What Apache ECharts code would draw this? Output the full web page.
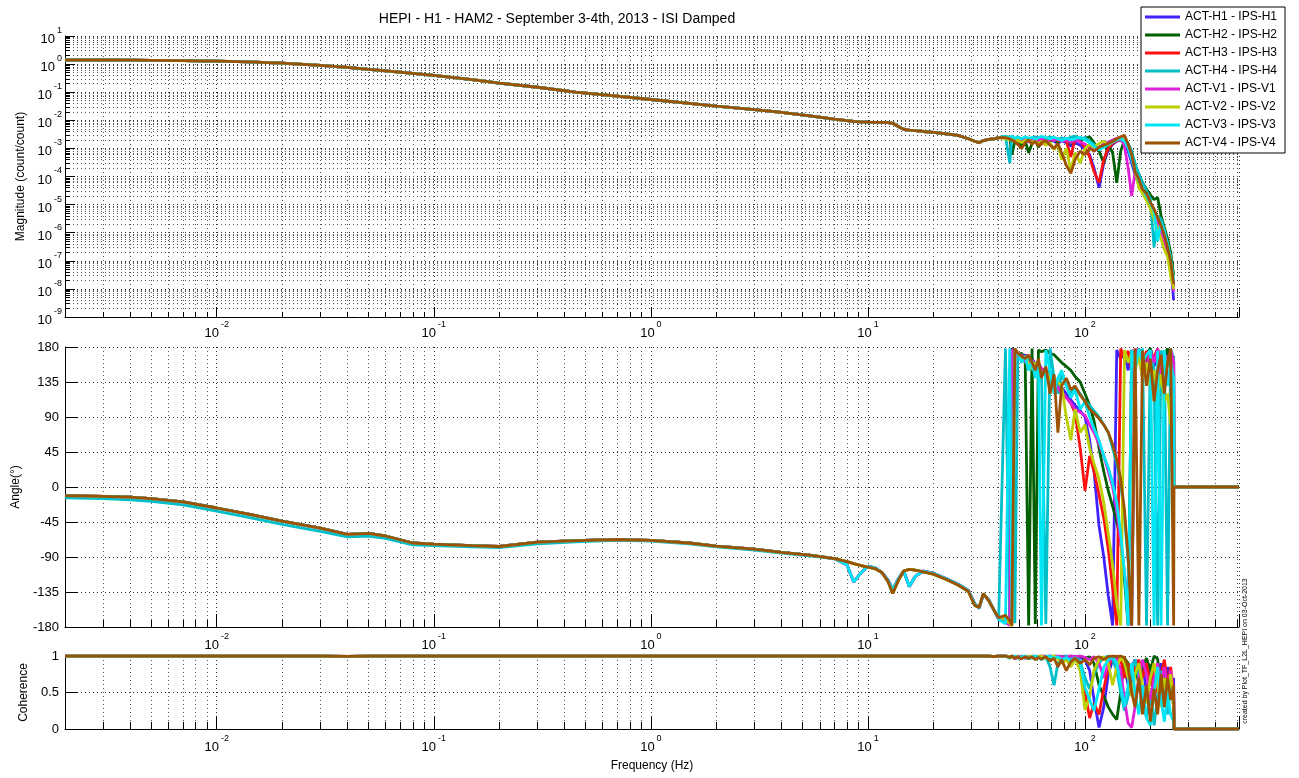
<!DOCTYPE html>
<html>
<head>
<meta charset="utf-8">
<title>HEPI - H1 - HAM2 - ISI Damped</title>
<script src="https://cdn.jsdelivr.net/npm/echarts@6.0.0/dist/echarts.min.js"></script>
<style>
  html, body { margin: 0; padding: 0; background: #fff; }
  #main { width: 1299px; height: 778px; }
</style>
</head>
<body>
<div id="main"></div>
<script>
// --- series ---
var seriesNames = ['ACT-H1 - IPS-H1', 'ACT-H2 - IPS-H2', 'ACT-H3 - IPS-H3', 'ACT-H4 - IPS-H4',
                   'ACT-V1 - IPS-V1', 'ACT-V2 - IPS-V2', 'ACT-V3 - IPS-V3', 'ACT-V4 - IPS-V4'];
var seriesColors = ['#4022ff', '#005f00', '#ff1010', '#00bfc8', '#e020d8', '#bcd000', '#00e6f5', '#9c5200'];

// --- low frequencies, all channels alike (Hz) ---
var freqLow = [0.002, 0.003, 0.004, 0.005, 0.007, 0.01, 0.014, 0.02, 0.03, 0.04, 0.05, 0.06, 0.08, 0.1,
               0.15, 0.2, 0.3, 0.45, 0.7, 1, 1.5, 2, 3, 4, 5.5];
var magLow = [1.4, 1.4, 1.38, 1.36, 1.33, 1.28, 1.2, 1.08, 0.9, 0.76, 0.65, 0.57, 0.47, 0.4,
              0.28, 0.21, 0.15, 0.1, 0.072, 0.055, 0.04, 0.032, 0.024, 0.019, 0.014];
var phaseLow = [-11, -12, -13, -15, -19, -27, -35, -44, -53, -61, -59.5, -63, -72, -73.5,
                -75.5, -76.5, -71, -69, -67.5, -68.5, -72, -76, -80, -84, -88];
var phaseLowH4 = [-14, -15, -16.5, -18.5, -23, -31, -39, -48, -57, -64, -63, -66, -74.5, -75.5,
                  -77, -78, -73, -70.5, -68.5, -69.5, -73, -77, -81, -85, -89];
var cohLow = [1, 1, 1, 1, 1, 1, 1, 1, 1, 0.995, 1, 1, 1, 1, 1, 1, 1, 1, 1, 1, 1, 1, 1, 1, 1];

// --- mid frequencies (Hz) ---
var freqMid = [7, 8, 8.6, 9.3, 10, 10.8, 11.6, 12.4, 13, 13.8, 14.6, 15.5, 16.5, 18, 20, 23, 26, 29,
               31, 32.5, 34, 36, 38, 40];
var magMid = [0.011, 0.0098, 0.0092, 0.0088, 0.0086, 0.0085, 0.0084, 0.0082, 0.0078, 0.006, 0.0048, 0.0045,
              0.0043, 0.004, 0.0037, 0.0033, 0.0029, 0.0022, 0.0018, 0.0016, 0.0019, 0.0021, 0.0022, 0.0024];
var phaseMidA = [-92, -100, -122, -110, -102, -104, -110, -120, -132, -118, -108, -128,
                 -115, -108, -111, -118, -125, -133, -150, -156, -138, -145, -158, -170];
var phaseMidB = [-92, -96, -98.5, -101, -103, -105, -110, -122, -137, -120, -108, -106,
                 -107, -109, -112, -119, -126, -134, -152, -155, -137, -146, -158, -168];
var cohMid = [1, 1, 1, 1, 1, 1, 1, 1, 1, 1, 1, 1, 1, 1, 1, 1, 1, 1, 1, 1, 1, 1, 0.99, 1];

// --- high frequencies, per channel (Hz) ---
var freqHigh = [43, 45, 46, 47.5, 49, 51, 53, 55, 57, 59, 61, 63, 66, 69, 72, 75, 78, 82, 86, 90,
                95, 100, 105, 110, 116, 122, 128, 134, 140, 146, 152, 158, 164, 170, 177, 184, 192,
                200, 208, 216, 224, 232, 240, 248, 256, 257, 512];

var magHighH1 = [2.5e-3, 2.3e-3, 2.2e-3, 1.9e-3, 2.1e-3, 1.7e-3, 2.0e-3, 2.3e-3, 1.9e-3, 2.2e-3,
  1.8e-3, 2.1e-3, 1.6e-3, 2.0e-3, 1.8e-3, 1.5e-3, 1.9e-3, 1.6e-3, 1.2e-3, 1.6e-3,
  1.3e-3, 9e-4, 6e-4, 2e-4, 4e-5, 3e-4, 9e-4, 1.4e-3, 1.8e-3, 2.0e-3,
  1.5e-3, 8e-4, 3e-4, 1.2e-4, 5e-5, 3e-5, 1.6e-5, 9e-6, 5e-6, 2.5e-6,
  1.3e-6, 6e-7, 2.2e-7, 7e-8, 4e-9, null, null];
var magHighH2 = [2.6e-3, 2.4e-3, 6e-4, 1.8e-3, 2.2e-3, 1.3e-3, 1.9e-3, 7e-4, 1.5e-3, 2.0e-3,
  1.1e-3, 1.6e-3, 2.2e-3, 1.8e-3, 2.0e-3, 1.7e-3, 2.1e-3, 1.9e-3, 1.5e-3, 2.0e-3,
  1.8e-3, 2.3e-3, 2.6e-3, 1.6e-3, 8e-4, 3e-4, 1.4e-3, 7e-4, 6e-5, 8e-4,
  2.0e-3, 1.4e-3, 7e-4, 2.5e-4, 1.2e-4, 6e-5, 3.5e-5, 2.2e-5, 1.5e-5, 1.8e-5,
  4e-6, 1.5e-6, 6e-7, 2e-7, 3e-8, null, null];
var magHighH3 = [2.4e-3, 2.2e-3, 2.4e-3, 2.0e-3, 1.8e-3, 2.1e-3, 1.8e-3, 2.2e-3, 1.7e-3, 2.1e-3,
  1.9e-3, 1.4e-3, 1.8e-3, 2.0e-3, 2.3e-3, 1.9e-3, 2.2e-3, 1.8e-3, 5e-4, 2.4e-3,
  1.7e-3, 1.1e-3, 5e-4, 1.5e-4, 6e-5, 4e-4, 1.0e-3, 1.5e-3, 1.9e-3, 2.1e-3,
  1.6e-3, 1.2e-3, 6e-4, 2e-4, 7e-5, 3.5e-5, 1.8e-5, 1e-5, 5.5e-6, 2.8e-6,
  1.4e-6, 6.5e-7, 2.5e-7, 8e-8, 1.2e-8, null, null];
var magHighH4 = [2.7e-3, 3e-4, 2.5e-3, 2.2e-3, 2.6e-3, 2.0e-3, 2.4e-3, 1.8e-3, 2.3e-3, 2.6e-3,
  2.1e-3, 2.5e-3, 2.2e-3, 2.6e-3, 2.3e-3, 2.0e-3, 2.4e-3, 2.1e-3, 2.5e-3, 2.7e-3,
  2.2e-3, 2.4e-3, 1.8e-3, 1.4e-3, 1.0e-3, 1.3e-3, 1.6e-3, 1.9e-3, 2.2e-3, 2.4e-3,
  2.0e-3, 1.5e-3, 8e-4, 3e-4, 1.2e-4, 6e-5, 3e-5, 1.6e-5, 3e-7, 4e-6,
  3e-6, 1.2e-6, 4e-7, 1.2e-7, 1.5e-8, null, null];
var magHighV1 = [2.3e-3, 2.1e-3, 2.3e-3, 1.9e-3, 2.2e-3, 1.8e-3, 2.1e-3, 1.7e-3, 2.0e-3, 2.3e-3,
  1.9e-3, 2.2e-3, 1.7e-3, 2.1e-3, 1.9e-3, 2.2e-3, 1.8e-3, 2.0e-3, 1.6e-3, 2.0e-3,
  1.7e-3, 1.4e-3, 1.1e-3, 8e-4, 1.1e-3, 1.4e-3, 1.7e-3, 2.0e-3, 2.3e-3, 2.5e-3,
  1.2e-3, 2e-4, 2e-5, 1.5e-4, 6e-5, 3e-5, 1.7e-5, 9e-6, 4.5e-6, 2.2e-6,
  1.1e-6, 5e-7, 1.8e-7, 6e-8, 8e-9, null, null];
var magHighV2 = [2.2e-3, 2.0e-3, 2.2e-3, 1.7e-3, 2.0e-3, 1.6e-3, 1.9e-3, 2.1e-3, 1.6e-3, 1.9e-3,
  1.4e-3, 1.8e-3, 1.3e-3, 1.6e-3, 9e-4, 1.4e-3, 4e-4, 1.0e-3, 1.6e-4, 7e-4,
  3e-4, 1.0e-3, 1.4e-3, 1.1e-3, 1.5e-3, 1.8e-3, 1.3e-3, 1.7e-3, 2.1e-3, 2.3e-3,
  1.9e-3, 1.2e-3, 5e-4, 1.6e-4, 4e-5, 2.5e-5, 1.4e-5, 7e-6, 3e-6, 1.4e-6,
  6e-7, 2.5e-7, 1.4e-7, 3e-8, 1e-8, null, null];
var magHighV3 = [2.6e-3, 2.5e-3, 2.7e-3, 2.3e-3, 2.5e-3, 2.2e-3, 2.6e-3, 2.3e-3, 2.5e-3, 2.1e-3,
  2.4e-3, 2.7e-3, 2.4e-3, 2.2e-3, 2.5e-3, 2.2e-3, 1.9e-3, 2.3e-3, 2.0e-3, 2.2e-3,
  2.5e-3, 2.0e-3, 1.6e-3, 1.2e-3, 9e-4, 1.1e-3, 1.4e-3, 1.7e-3, 2.0e-3, 2.2e-3,
  1.8e-3, 1.0e-3, 4e-4, 1.6e-4, 7e-5, 4e-5, 2e-5, 1.1e-5, 6e-6, 5e-7,
  2.5e-6, 1.1e-6, 4e-7, 1.3e-7, 2e-8, null, null];
var magHighV4 = [2.4e-3, 2.2e-3, 2.0e-3, 1.7e-3, 1.4e-3, 1.0e-3, 1.6e-3, 2.0e-3, 1.4e-3, 1.8e-3,
  1.2e-3, 1.6e-3, 1.9e-3, 1.3e-3, 1.0e-3, 1.5e-3, 7e-4, 2.5e-4, 1.3e-4, 4e-4,
  8e-4, 6e-4, 1.0e-3, 8e-4, 1.1e-3, 1.3e-3, 1.5e-3, 1.8e-3, 2.2e-3, 2.6e-3,
  2.9e-3, 1.4e-3, 6e-4, 1.5e-4, 8e-5, 3.5e-5, 2.5e-5, 1.2e-5, 7e-6, 3.5e-6,
  1.8e-6, 8e-7, 3e-7, 1e-7, 1.5e-8, null, null];

var phaseHighH1 = [-170, -176, 178, 174, 170, 166, 170, 162, 165, 158,
  160, 152, 150, 145, 140, 132, 128, 120, 112, 105,
  98, 90, 60, 20, -50, -90, -140, -178, 176, 165,
  172, 150, 176, 160, 170, 140, 165, 178, 155, 170,
  145, 168, 176, 150, 160, 0, 0];
var phaseHighH2 = [-172, -177, 178, 175, 170, 172, 165, -178, 178, -176,
  176, 174, 176, 172, 170, 165, 160, 155, 150, 142,
  135, 120, 105, 85, 50, 20, -5, -25, -45, -70,
  -120, -178, 176, 165, 176, 150, 172, 178, 160, 176,
  140, 170, 178, 150, 168, 0, 0];
var phaseHighH3 = [-168, -174, -178, 177, 172, 168, 164, 168, 160, 155,
  158, 150, 146, 140, 135, 128, 122, 115, 108, 95,
  50, -5, 40, 20, -10, -40, -80, -130, -178, 178,
  165, 175, 150, 172, 178, 160, 175, 140, 168, 178,
  155, 172, 160, 176, 150, 0, 0];
var phaseHighH4 = [178, -178, 176, -175, 172, 168, 160, 165, 150, 158,
  145, 150, -176, 178, 140, 120, 145, 130, 120, 128,
  120, 110, 105, 98, 90, 80, 70, 50, 30, 5,
  -40, -95, -178, 175, 160, 178, -178, 176, 150, -178,
  175, 170, -178, 178, 165, 0, 0];
var phaseHighV1 = [-174, -178, 177, 172, 168, 170, 162, 158, 163, 155,
  150, 153, 145, 140, 132, 128, 120, 115, 108, 100,
  96, 92, 80, 70, 55, 40, 20, 0, -30, -70,
  -110, -150, -178, 178, 165, 172, 150, 175, 160, 178,
  145, 170, 158, 176, 162, 0, 0];
var phaseHighV2 = [-170, -175, -179, 176, 170, 165, 168, 158, 152, 160,
  148, 145, 150, 138, 140, 135, 130, 90, 60, 100,
  70, 80, 50, 30, 10, -20, -60, -100, -150, -178,
  176, 160, 172, 150, 168, 140, 160, 130, 150, 120,
  145, 110, 120, 80, 120, 0, 0];
var phaseHighV3 = [-176, 178, -175, 170, 172, 160, 168, 150, 162, 140,
  155, -178, 176, 150, 120, 140, 150, 130, 115, 125,
  100, 110, 90, 75, 60, 40, 25, 5, -20, -60,
  -110, -178, 176, 150, 178, 160, 170, 176, -178, 175,
  -178, 176, 130, 160, 140, 0, 0];
var phaseHighV4 = [-165, -172, -178, 178, 172, 168, 165, 170, 160, 150,
  165, 140, 155, 120, 145, 70, 130, 140, 125, 130,
  118, 110, 100, 95, 88, 80, 70, 55, 35, 10,
  -30, -90, -178, 178, -178, 175, 130, 165, 110, 150,
  170, 120, 160, 178, -178, 0, 0];

var cohHighH1 = [1, 0.99, 1, 0.98, 1, 0.99, 0.97, 1, 0.99, 1,
  0.98, 1, 0.99, 1, 0.98, 1, 0.99, 1, 0.97, 1,
  0.98, 0.95, 0.8, 0.4, 0.02, 0.3, 0.75, 0.95, 1, 0.97,
  0.85, 0.6, 0.85, 0.95, 0.7, 0.9, 0.5, 0.8, 0.4, 0.7,
  0.9, 0.6, 0.85, 0.5, 0.7, 0, 0];
var cohHighH2 = [1, 0.98, 1, 0.99, 0.97, 1, 0.99, 0.96, 1, 0.98,
  1, 0.99, 1, 0.98, 1, 0.99, 1, 0.98, 1, 0.99,
  1, 0.97, 0.99, 0.9, 0.6, 0.45, 0.3, 0.2, 0.13, 0.5,
  0.97, 0.9, 0.75, 0.9, 0.6, 0.85, 0.97, 0.8, 1, 0.96,
  0.5, 0.8, 0.4, 0.7, 0.3, 0, 0];
var cohHighH3 = [1, 0.99, 0.98, 1, 0.99, 1, 0.98, 0.99, 1, 0.97,
  0.99, 1, 0.98, 1, 0.99, 1, 0.98, 0.99, 1, 0.97,
  0.85, 0.5, 0.15, 0.35, 0.2, 0.55, 0.85, 0.97, 1, 0.95,
  0.7, 0.9, 0.6, 0.85, 0.95, 0.7, 0.9, 0.6, 0.8, 0.5,
  0.75, 0.95, 0.6, 0.85, 0.5, 0, 0];
var cohHighH4 = [1, 0.97, 1, 0.99, 1, 0.98, 1, 0.99, 0.97, 1,
  0.98, 0.95, 0.99, 0.85, 0.6, 0.9, 0.98, 1, 0.97, 0.99,
  0.93, 0.7, 0.55, 0.75, 0.9, 0.98, 1, 0.95, 0.8, 0.5,
  0.25, 0.45, 0.8, 0.95, 0.7, 0.4, 0.15, 0.5, 0.05, 0.45,
  0.8, 0.5, 0.2, 0.6, 0.4, 0, 0];
var cohHighV1 = [1, 0.99, 1, 0.96, 0.99, 1, 0.98, 1, 0.99, 1,
  0.98, 1, 0.99, 1, 0.98, 1, 0.99, 0.98, 1, 0.99,
  1, 0.98, 0.95, 0.99, 0.9, 0.7, 0.9, 1, 0.98, 0.8,
  0.4, 0.08, 0.02, 0.3, 0.7, 0.95, 0.75, 0.4, 0.7, 0.9,
  0.6, 0.85, 0.55, 0.8, 0.45, 0, 0];
var cohHighV2 = [1, 0.99, 0.97, 1, 0.99, 0.98, 1, 0.99, 1, 0.98,
  0.99, 1, 0.97, 0.99, 1, 0.96, 0.9, 0.95, 0.85, 0.96,
  0.8, 0.26, 0.45, 0.8, 0.95, 0.99, 0.9, 0.6, 0.85, 0.98,
  0.9, 0.7, 0.45, 0.75, 0.9, 0.6, 0.35, 0.7, 0.9, 0.6,
  0.3, 0.7, 0.45, 0.75, 0.35, 0, 0];
var cohHighV3 = [1, 0.98, 0.99, 1, 0.98, 0.99, 1, 0.97, 0.99, 1,
  0.98, 0.96, 0.99, 1, 0.97, 0.99, 0.95, 0.98, 0.93, 0.98,
  0.9, 0.57, 0.4, 0.25, 0.55, 0.85, 0.95, 0.99, 0.9, 0.6,
  0.3, 0.6, 0.9, 0.5, 0.2, 0.6, 0.15, 0.05, 0.5, 0.85,
  0.4, 0.1, 0.5, 0.2, 0.1, 0, 0];
var cohHighV4 = [1, 0.98, 1, 0.97, 0.99, 0.96, 0.99, 0.97, 0.99, 0.95,
  0.98, 0.96, 0.99, 0.93, 0.97, 0.85, 0.95, 0.8, 0.92, 0.97,
  0.9, 0.95, 0.88, 0.97, 0.99, 0.95, 0.99, 1, 0.99, 1,
  0.98, 0.85, 0.5, 0.3, 0.7, 0.2, 0.6, 0.1, 0.55, 0.2,
  0.75, 0.3, 0.7, 0.4, 0.6, 0, 0];

// --- axes ---
var freqMin = 0.002, freqMax = 512;
var freqTickExps = [-2, -1, 0, 1, 2];
var magTickExps = [-9, -8, -7, -6, -5, -4, -3, -2, -1, 0, 1];
var angleMin = -180, angleMax = 180, angleStep = 45;
var cohMin = 0, cohMax = 1, cohStep = 0.5;

var magHigh = [magHighH1, magHighH2, magHighH3, magHighH4, magHighV1, magHighV2, magHighV3, magHighV4];
var phaseHigh = [phaseHighH1, phaseHighH2, phaseHighH3, phaseHighH4, phaseHighV1, phaseHighV2, phaseHighV3, phaseHighV4];
var cohHigh = [cohHighH1, cohHighH2, cohHighH3, cohHighH4, cohHighV1, cohHighV2, cohHighV3, cohHighV4];
var phaseLowBy = [phaseLow, phaseLow, phaseLow, phaseLowH4, phaseLow, phaseLow, phaseLow, phaseLow];
var phaseMidBy = [phaseMidA, phaseMidB, phaseMidA, phaseMidA, phaseMidA, phaseMidB, phaseMidA, phaseMidB];

var freqAll = freqLow.concat(freqMid, freqHigh);
function pairs(vals) {
  return freqAll.map(function (f, i) { return [f, vals[i]]; });
}

var fontFam = '"Liberation Sans", Arial, Helvetica, sans-serif';
var gridStyle = { color: '#333', width: 1, type: [1, 3] };
var minorGridStyle = { color: '#555', width: 1, type: [1, 3] };

function powLabel(exps) {
  return function (v) {
    var e = Math.round(Math.log(v) / Math.LN10);
    if (exps.indexOf(e) < 0 || Math.abs(v / Math.pow(10, e) - 1) > 1e-6) return '';
    return '{b|10}{s|' + e + '}';
  };
}
var powRich = {
  b: { fontSize: 13, fontFamily: fontFam, color: '#000', lineHeight: 20, verticalAlign: 'bottom' },
  s: { fontSize: 9, fontFamily: fontFam, color: '#000', lineHeight: 20, verticalAlign: 'top', padding: [0, 0, 0, 2] }
};
var nameStyle = { fontSize: 12, fontFamily: fontFam, color: '#000' };

function freqAxis(gi, major, minor, margin, name) {
  return {
    type: 'log', logBase: 10, gridIndex: gi, min: freqMin, max: freqMax, splitNumber: 6,
    name: name || '', nameLocation: 'middle', nameGap: 31, nameTextStyle: nameStyle,
    axisLine: { show: true, onZero: false, lineStyle: { color: '#000', width: 1 } },
    axisTick: { show: true, inside: true, length: major, lineStyle: { color: '#000' } },
    minorTick: { show: true, splitNumber: 9, length: minor, lineStyle: { color: '#000' } },
    splitLine: { show: true, lineStyle: gridStyle },
    minorSplitLine: { show: true, lineStyle: minorGridStyle },
    axisLabel: { margin: margin, formatter: powLabel(freqTickExps), rich: powRich,
                 showMinLabel: false, showMaxLabel: false }
  };
}

var series = [];
seriesNames.forEach(function (name, s) {
  var c = seriesColors[s];
  var common = { name: name, type: 'line', symbol: 'none', showSymbol: false, animation: false,
                 lineStyle: { width: 2.8, color: c }, itemStyle: { color: c }, z: 3 + s };
  series.push(Object.assign({}, common, { xAxisIndex: 0, yAxisIndex: 0,
    data: pairs(magLow.concat(magMid, magHigh[s])) }));
  series.push(Object.assign({}, common, { xAxisIndex: 1, yAxisIndex: 1,
    data: pairs(phaseLowBy[s].concat(phaseMidBy[s], phaseHigh[s])) }));
  series.push(Object.assign({}, common, { xAxisIndex: 2, yAxisIndex: 2,
    data: pairs(cohLow.concat(cohMid, cohHigh[s])) }));
});

var chart = echarts.init(document.getElementById('main'), null, { renderer: 'canvas' });
chart.setOption({
  backgroundColor: '#fff',
  animation: false,
  textStyle: { fontFamily: fontFam },
  grid: [
    { left: 65, top: 36, width: 1174, height: 281 },
    { left: 65, top: 347, width: 1174, height: 280 },
    { left: 65, top: 656, width: 1174, height: 73 }
  ],
  legend: {
    data: seriesNames, orient: 'vertical', left: 1141, top: 7, selectedMode: false,
    icon: 'rect', itemWidth: 35, itemHeight: 3, itemGap: 4, padding: [3, 8, 3, 4],
    borderColor: '#000', borderWidth: 1, backgroundColor: '#fff',
    textStyle: { fontSize: 12, fontFamily: fontFam, color: '#000', lineHeight: 14 }
  },
  xAxis: [
    freqAxis(0, 10, 5, 3),
    freqAxis(1, 13, 7, 5),
    freqAxis(2, 13, 7, 5, 'Frequency (Hz)')
  ],
  yAxis: [
    {
      type: 'log', logBase: 10, gridIndex: 0, min: 1e-9, max: 10, splitNumber: 10,
      name: 'Magnitude (count/count)', nameLocation: 'middle', nameGap: 38, nameTextStyle: nameStyle,
      axisLine: { show: true, lineStyle: { color: '#000' } },
      axisTick: { show: true, inside: true, length: 10, lineStyle: { color: '#000' } },
      minorTick: { show: true, splitNumber: 9, length: 5, lineStyle: { color: '#000' } },
      splitLine: { show: true, lineStyle: gridStyle },
      minorSplitLine: { show: true, lineStyle: minorGridStyle },
      axisLabel: { margin: 3, formatter: powLabel(magTickExps), rich: powRich }
    },
    {
      type: 'value', gridIndex: 1, min: angleMin, max: angleMax, interval: angleStep,
      name: 'Angle(\u00b0)', nameLocation: 'middle', nameGap: 41, nameTextStyle: nameStyle,
      axisLine: { show: true, lineStyle: { color: '#000' } },
      axisTick: { show: true, inside: true, length: 13, lineStyle: { color: '#000' } },
      splitLine: { show: true, lineStyle: gridStyle },
      axisLabel: { margin: 6, fontSize: 13, color: '#000' }
    },
    {
      type: 'value', gridIndex: 2, min: cohMin, max: cohMax, interval: cohStep,
      name: 'Coherence', nameLocation: 'middle', nameGap: 33, nameTextStyle: nameStyle,
      axisLine: { show: true, lineStyle: { color: '#000' } },
      axisTick: { show: true, inside: true, length: 13, lineStyle: { color: '#000' } },
      splitLine: { show: true, lineStyle: gridStyle },
      axisLabel: { margin: 6, fontSize: 13, color: '#000' }
    }
  ],
  graphic: [
    { type: 'text', x: 557, y: 19, z: 10,
      style: { text: 'HEPI - H1 - HAM2 - September 3-4th, 2013 - ISI Damped', fontSize: 14,
               fontFamily: fontFam, fill: '#000', align: 'center', verticalAlign: 'middle' } },
    { type: 'text', x: 1245, y: 651, rotation: Math.PI / 2, z: 10,
      style: { text: 'created by Plot_TF_L2L_HEPI on 03-Oct-2013', fontSize: 7,
               fontFamily: fontFam, fill: '#000', align: 'center', verticalAlign: 'middle' } }
  ],
  series: series
});
</script>
</body>
</html>
